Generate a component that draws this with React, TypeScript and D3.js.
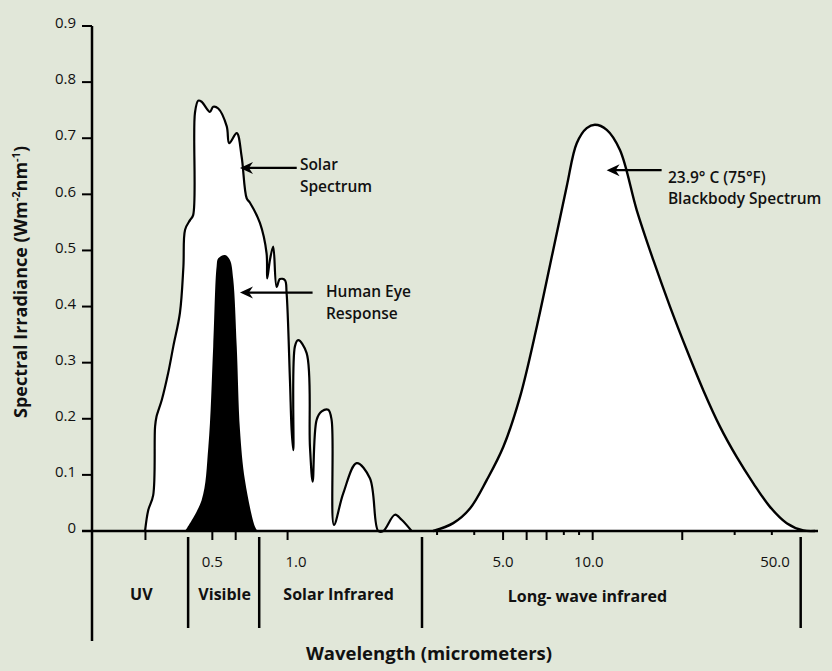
import React, {useEffect} from "react";
import * as d3 from "d3";

// y axis
const yTicks = [0, 0.1, 0.2, 0.3, 0.4, 0.5, 0.6, 0.7, 0.8, 0.9];
const yTickLabels = ["0", "0.1", "0.2", "0.3", "0.4", "0.5", "0.6", "0.7", "0.8", "0.9"];

// solar spectrum (micrometers, W m-2 nm-1)
const solarWavelength = [
	0.269, 0.277, 0.29, 0.295, 0.299, 0.314, 0.333, 0.349, 0.371, 0.383, 0.389, 0.407, 0.419, 0.426,
	0.439, 0.453, 0.489, 0.504, 0.528, 0.571, 0.584, 0.626, 0.655, 0.686, 0.707, 0.775, 0.824, 0.829,
	0.85, 0.876, 0.904, 0.932, 0.976, 0.991, 1.022, 1.038, 1.054, 1.07, 1.103, 1.192, 1.229, 1.26,
	1.307, 1.369, 1.454, 1.5, 1.533, 1.67, 1.889, 2.135, 2.305, 2.414, 2.688, 2.86, 3.135,
];
const solarIrradiance = [
	0, 0.037, 0.064, 0.186, 0.204, 0.234, 0.282, 0.329, 0.389, 0.471, 0.537, 0.554, 0.563, 0.745,
	0.767, 0.765, 0.747, 0.756, 0.753, 0.721, 0.691, 0.709, 0.667, 0.593, 0.585, 0.549, 0.495, 0.45,
	0.483, 0.507, 0.435, 0.449, 0.447, 0.424, 0.269, 0.18, 0.144, 0.329, 0.34, 0.317, 0.15, 0.088,
	0.198, 0.213, 0.216, 0.198, 0.011, 0.067, 0.121, 0.094, 0, 0, 0.029, 0.02, 0,
];

// human eye response
const eyeWavelength = [0.389, 0.453, 0.482, 0.504, 0.52, 0.528, 0.562, 0.588, 0.606, 0.626, 0.645, 0.675, 0.74, 0.759];
const eyeResponse = [0, 0.055, 0.15, 0.329, 0.471, 0.486, 0.492, 0.483, 0.449, 0.329, 0.18, 0.091, 0.008, 0];

// 23.9 C blackbody
const bbWavelength = [
	2.91, 3.4, 3.87, 4.41, 5.01, 5.7, 6.49, 7.37, 8.18, 8.84, 9.55, 10.18, 11.15, 12.35, 14.06, 15.98,
	18.19, 20.7, 23.53, 26.78, 30.47, 34.66, 39.43, 44.88, 51.03, 55.9,
];
const bbIrradiance = [
	0, 0.014, 0.04, 0.091, 0.15, 0.239, 0.364, 0.501, 0.614, 0.691, 0.718, 0.724, 0.715, 0.679, 0.572,
	0.483, 0.4, 0.323, 0.251, 0.186, 0.132, 0.085, 0.043, 0.014, 0.001, 0,
];

// x axis ticks and labels
const solarTicks = [0.27, 0.5, 0.62, 1.0];
const solarTickLabels = ["0.5", "1.0"];
const solarLabelAt = [0.5, 1.08];
const irMajorTicks = [5, 6, 7, 10, 20];
const irMinorTicks = [3, 4, 8, 9, 30, 40];
const irTickLabels = ["5.0", "10.0", "50.0"];
const irLabelAt = [5, 9.7, 41];

// band dividers and names
const solarDividers = [0.4, 0.77, 3.45];
const irDividers = [50];
const bandNames = ["UV", "Visible", "Solar Infrared"];
const bandCenters = [0.26, 0.56, 1.6];
const irBandName = "Long- wave infrared";
const irBandCenter = 9.6;

const BG = "#e1e7d9";
const FONT = "'Open Sans', Lato, 'DejaVu Sans', sans-serif";

const W = 832;
const H = 671;

const App: React.FC = () => {
	useEffect(() => {
		document.body.style.margin = "0";
	}, []);

	const y = d3.scaleLinear().domain([0, 0.9]).range([531, 26]);
	const xSolar = d3.scaleLog().domain([0.165, 3.45]).range([92, 422]);
	const xIR = d3.scaleLog().domain([2.67, 55]).range([422, 813]);

	const curve = d3.curveCatmullRom.alpha(0.5);

	const solarPts = solarWavelength.map((w, i) => [w, solarIrradiance[i]] as [number, number]);
	const eyePts = eyeWavelength.map((w, i) => [w, eyeResponse[i]] as [number, number]);
	const bbPts = bbWavelength.map((w, i) => [w, bbIrradiance[i]] as [number, number]);

	const solarArea = d3.area<[number, number]>().x((d) => xSolar(d[0])).y0(y(0)).y1((d) => y(d[1])).curve(curve);
	const solarLine = d3.line<[number, number]>().x((d) => xSolar(d[0])).y((d) => y(d[1])).curve(curve);
	const irArea = d3.area<[number, number]>().x((d) => xIR(d[0])).y0(y(0)).y1((d) => y(d[1])).curve(curve);
	const irLine = d3.line<[number, number]>().x((d) => xIR(d[0])).y((d) => y(d[1])).curve(curve);

	const base = y(0);
	const arrowHead = (tx: number, ty: number) =>
		`M${tx},${ty} L${tx + 13},${ty - 6} L${tx + 9},${ty} L${tx + 13},${ty + 6} Z`;

	// annotation arrows: tip, tail, text x and height
	const solarTip = xSolar(0.645), solarTail = xSolar(1.088), solarTextX = xSolar(1.12), solarY = y(0.647);
	const eyeTip = xSolar(0.645), eyeTail = xSolar(1.259), eyeTextX = xSolar(1.424), eyeY = y(0.425);
	const bbTip = xIR(11.14), bbTail = xIR(17.05), bbTextX = xIR(17.9), bbY = y(0.643);

	const annFont = {fontFamily: FONT, fontSize: 15.5, fontWeight: 600, fill: "#111"};
	const bandFont = {fontFamily: FONT, fontSize: 16, fontWeight: 700, fill: "#111"};
	const tickFont = {fontFamily: FONT, fontSize: 15, fill: "#111"};

	return (
		<svg width={W} height={H} style={{display: "block"}}>
			<rect x={0} y={0} width={W} height={H} fill={BG} />

			{/* spectra */}
			<path d={solarArea(solarPts) || ""} fill="#fff" />
			<path d={solarLine(solarPts) || ""} fill="none" stroke="#000" strokeWidth={2.2} strokeLinejoin="round" />
			<path d={solarArea(eyePts) || ""} fill="#000" />
			<path d={irArea(bbPts) || ""} fill="#fff" />
			<path d={irLine(bbPts) || ""} fill="none" stroke="#000" strokeWidth={2.4} />

			{/* y axis */}
			<line x1={92} x2={92} y1={y(0.9)} y2={641} stroke="#000" strokeWidth={2.5} />
			{yTicks.map((t, i) => (
				<g key={"yt" + i}>
					<line x1={82} x2={92} y1={y(t)} y2={y(t)} stroke="#000" strokeWidth={2} />
					<text x={76} y={y(t) - 3} dy="0.35em" textAnchor="end" {...tickFont}>
						{yTickLabels[i]}
					</text>
				</g>
			))}
			<text
				transform={`translate(27, 282) rotate(-90)`}
				textAnchor="middle"
				fontFamily={FONT}
				fontSize={18}
				fontWeight={700}
				fill="#111"
			>
				Spectral Irradiance (Wm
				<tspan fontSize={11} dy={-7}>-2</tspan>
				<tspan dy={7}>nm</tspan>
				<tspan fontSize={11} dy={-7}>-1</tspan>
				<tspan dy={7}>)</tspan>
			</text>

			{/* x axis */}
			<line x1={82} x2={818} y1={base} y2={base} stroke="#000" strokeWidth={2.5} />
			{solarTicks.map((t) => (
				<line key={"st" + t} x1={xSolar(t)} x2={xSolar(t)} y1={base} y2={base + 9} stroke="#000" strokeWidth={2} />
			))}
			{irMajorTicks.map((t) => (
				<line key={"im" + t} x1={xIR(t)} x2={xIR(t)} y1={base} y2={base + 9} stroke="#000" strokeWidth={2} />
			))}
			{irMinorTicks.map((t) => (
				<line key={"in" + t} x1={xIR(t)} x2={xIR(t)} y1={base} y2={base + 4} stroke="#000" strokeWidth={2} />
			))}
			{solarTickLabels.map((l, i) => (
				<text key={"sl" + l} x={xSolar(solarLabelAt[i])} y={567} textAnchor="middle" {...tickFont}>
					{l}
				</text>
			))}
			{irTickLabels.map((l, i) => (
				<text key={"il" + l} x={xIR(irLabelAt[i])} y={567} textAnchor="middle" {...tickFont}>
					{l}
				</text>
			))}

			{/* band dividers */}
			{solarDividers.map((d) => (
				<line key={"sd" + d} x1={xSolar(d)} x2={xSolar(d)} y1={base + 6} y2={628} stroke="#000" strokeWidth={2.5} />
			))}
			{irDividers.map((d) => (
				<line key={"id" + d} x1={xIR(d)} x2={xIR(d)} y1={base + 6} y2={628} stroke="#000" strokeWidth={2.5} />
			))}
			{bandNames.map((n, i) => (
				<text key={n} x={xSolar(bandCenters[i])} y={600} textAnchor="middle" {...bandFont}>
					{n}
				</text>
			))}
			<text x={xIR(irBandCenter)} y={602} textAnchor="middle" {...bandFont}>
				{irBandName}
			</text>
			<text x={429} y={660} textAnchor="middle" fontFamily={FONT} fontSize={18.5} fontWeight={700} fill="#111">
				Wavelength (micrometers)
			</text>

			{/* annotations */}
			<line x1={solarTip + 8} x2={solarTail} y1={solarY} y2={solarY} stroke="#000" strokeWidth={2.2} />
			<path d={arrowHead(solarTip, solarY)} fill="#000" />
			<text x={solarTextX} y={solarY - 3} dy="0.35em" {...annFont}>Solar</text>
			<text x={solarTextX} y={solarY + 19} dy="0.35em" {...annFont}>Spectrum</text>

			<line x1={eyeTip + 8} x2={eyeTail} y1={eyeY} y2={eyeY} stroke="#000" strokeWidth={2.2} />
			<path d={arrowHead(eyeTip, eyeY)} fill="#000" />
			<text x={eyeTextX} y={eyeY - 1} dy="0.35em" {...annFont}>Human Eye</text>
			<text x={eyeTextX} y={eyeY + 21} dy="0.35em" {...annFont}>Response</text>

			<line x1={bbTip + 8} x2={bbTail} y1={bbY} y2={bbY} stroke="#000" strokeWidth={2.2} />
			<path d={arrowHead(bbTip, bbY)} fill="#000" />
			<text x={bbTextX} y={bbY + 7} dy="0.35em" {...annFont}>23.9° C (75°F)</text>
			<text x={bbTextX} y={bbY + 28} dy="0.35em" {...annFont}>Blackbody Spectrum</text>
		</svg>
	);
};

export default App;
